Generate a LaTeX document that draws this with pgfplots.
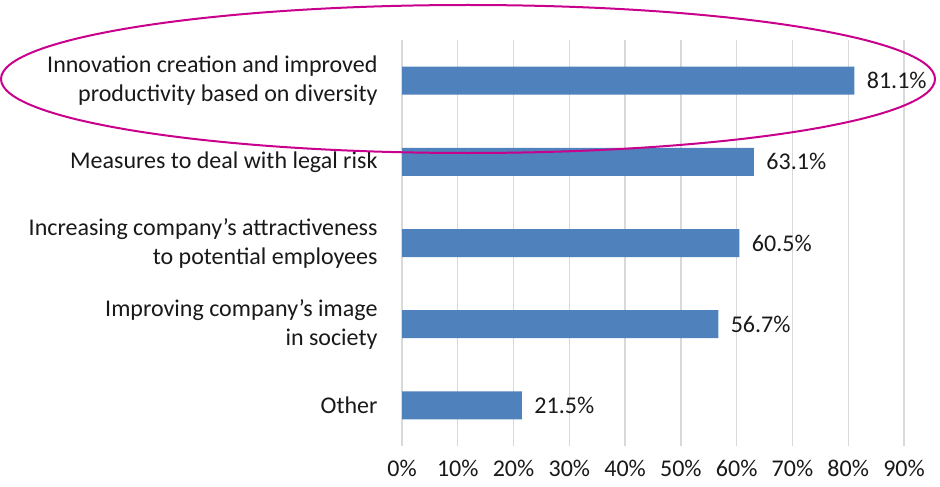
\documentclass[border=0pt]{standalone}
\usepackage{pgfplots}
\pgfplotsset{compat=1.18}
\usepackage{fontspec}
\setmainfont{Carlito}
\definecolor{barblue}{RGB}{79,129,189}
\definecolor{gridgray}{RGB}{217,217,217}
\definecolor{ellmag}{RGB}{200,0,140}
\definecolor{txt}{RGB}{25,25,25}
\begin{document}
\begin{tikzpicture}[font=\fontsize{24}{29}\selectfont]
\useasboundingbox (0,0) rectangle (940pt,-487pt);
\begin{axis}[
  at={(402pt,-446pt)}, anchor=south west,
  scale only axis, width=502pt, height=406pt,
  xbar, bar width=28pt,
  xmin=0, xmax=90, ymin=-0.5, ymax=4.5,
  axis line style={draw=none},
  xtick={0,10,...,90},
  xticklabels={0\%,10\%,20\%,30\%,40\%,50\%,60\%,70\%,80\%,90\%},
  ytick={0,1,2,3,4},
  yticklabels={Other,{Improving company’s image\\in society},{Increasing company’s attractiveness\\to potential employees},Measures to deal with legal risk,{Innovation creation and improved\\productivity based on diversity}},
  yticklabel style={align=right, xshift=-21pt, text=txt},
  xticklabel style={text=txt, yshift=-11pt},
  major tick length=0pt,
  xmajorgrids, major grid style={gridgray, line width=1.3pt},
  nodes near coords={\pgfmathprintnumber[fixed,fixed zerofill,precision=1]{\pgfplotspointmeta}\%},
  every node near coord/.append style={anchor=west, xshift=9pt, text=txt},
  /pgf/number format/assume math mode=true,
]
\addplot[fill=barblue, draw=none] coordinates {(21.5,0) (56.7,1) (60.5,2) (63.1,3) (81.1,4)};
\end{axis}
\draw[ellmag, line width=2pt] (468pt,-79pt) ellipse [x radius=467pt, y radius=74pt];
\end{tikzpicture}
\end{document}
